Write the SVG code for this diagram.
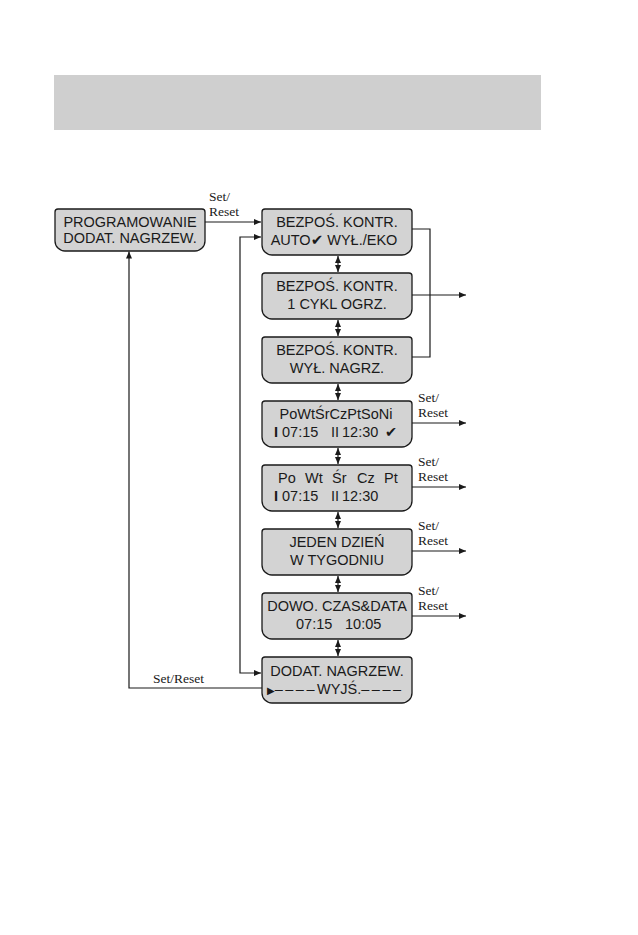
<svg xmlns="http://www.w3.org/2000/svg" width="638" height="935" viewBox="0 0 638 935">
<style>
.box{fill:#d3d3d3;stroke:#1a1a1a;stroke-width:1.3}
.t{font-family:"Liberation Sans",Arial,sans-serif;font-size:14.5px;fill:#1a1a1a;text-anchor:middle}
.tl{font-family:"Liberation Sans",Arial,sans-serif;font-size:14.5px;fill:#1a1a1a}
.sym{font-family:"DejaVu Sans",sans-serif}
.lbl{font-family:"Liberation Serif","Times New Roman",serif;font-size:13.5px;fill:#1a1a1a}
.c{fill:none;stroke:#1a1a1a;stroke-width:1.2}
.a{marker-end:url(#ah)}
.aa{marker-start:url(#ah);marker-end:url(#ah)}
</style>
<defs>
<marker id="ah" viewBox="0 0 7 6" refX="7" refY="3" markerWidth="7" markerHeight="6" markerUnits="userSpaceOnUse" orient="auto-start-reverse">
<path d="M0,0 L7,3 L0,6 z" fill="#1a1a1a"/>
</marker>
</defs>
<rect x="54" y="75" width="487" height="55" fill="#cfcfcf"/>

<g id="connectors">
<line class="c a" x1="205" y1="222" x2="261" y2="222"/>
<text class="lbl" x="209" y="201">Set/</text>
<text class="lbl" x="209" y="216">Reset</text>
<polyline class="c aa" points="261,237 240,237 240,673 261,673"/>
<polyline class="c a" points="262,688 129,688 129,251.5"/>
<text class="lbl" x="153" y="683">Set/Reset</text>
<polyline class="c" points="412,229 430,229 430,357 412,357"/>
<line class="c a" x1="412" y1="295" x2="466" y2="295"/>
<line class="c aa" x1="338" y1="256" x2="338" y2="272"/>
<line class="c aa" x1="338" y1="320" x2="338" y2="336"/>
<line class="c aa" x1="338" y1="384" x2="338" y2="400"/>
<line class="c aa" x1="338" y1="448" x2="338" y2="464"/>
<line class="c aa" x1="338" y1="512" x2="338" y2="528"/>
<line class="c aa" x1="338" y1="576" x2="338" y2="592"/>
<line class="c aa" x1="338" y1="640" x2="338" y2="656"/>
<line class="c a" x1="412" y1="423" x2="466" y2="423"/>
<text class="lbl" x="418" y="402">Set/</text>
<text class="lbl" x="418" y="417">Reset</text>
<line class="c a" x1="412" y1="487" x2="466" y2="487"/>
<text class="lbl" x="418" y="466">Set/</text>
<text class="lbl" x="418" y="481">Reset</text>
<line class="c a" x1="412" y1="551" x2="466" y2="551"/>
<text class="lbl" x="418" y="530">Set/</text>
<text class="lbl" x="418" y="545">Reset</text>
<line class="c a" x1="412" y1="616" x2="466" y2="616"/>
<text class="lbl" x="418" y="595">Set/</text>
<text class="lbl" x="418" y="610">Reset</text>
</g>

<g id="n0">
<path class="box" d="M58,209 H202 Q205,209 205,212 V241 A10,10 0 0 1 195,251 H65 A10,10 0 0 1 55,241 V212 Q55,209 58,209 Z"/>
<text class="t" x="130" y="227">PROGRAMOWANIE</text>
<text class="t" x="130" y="243">DODAT. NAGRZEW.</text>
</g>

<g id="n1">
<path class="box" d="M265,209 H409 Q412,209 412,212 V245 A10,10 0 0 1 402,255 H272 A10,10 0 0 1 262,245 V212 Q262,209 265,209 Z"/>
<text class="t" x="337" y="227">BEZPOŚ. KONTR.</text>
<text class="t" x="334" y="245">AUTO<tspan class="sym" font-size="15">✔</tspan> WYŁ./EKO</text>
</g>

<g id="n2">
<path class="box" d="M265,273 H409 Q412,273 412,276 V309 A10,10 0 0 1 402,319 H272 A10,10 0 0 1 262,309 V276 Q262,273 265,273 Z"/>
<text class="t" x="337" y="291">BEZPOŚ. KONTR.</text>
<text class="t" x="337" y="309">1 CYKL OGRZ.</text>
</g>

<g id="n3">
<path class="box" d="M265,337 H409 Q412,337 412,340 V373 A10,10 0 0 1 402,383 H272 A10,10 0 0 1 262,373 V340 Q262,337 265,337 Z"/>
<text class="t" x="337" y="355">BEZPOŚ. KONTR.</text>
<text class="t" x="337" y="373">WYŁ. NAGRZ.</text>
</g>

<g id="n4">
<path class="box" d="M265,401 H409 Q412,401 412,404 V437 A10,10 0 0 1 402,447 H272 A10,10 0 0 1 262,437 V404 Q262,401 265,401 Z"/>
<text class="t" x="336" y="419">PoWtŚrCzPtSoNi</text>
<text class="tl" x="274" y="437" font-weight="bold">I</text>
<text class="tl" x="282" y="437">07:15</text>
<text class="tl" x="331" y="437">II</text>
<text class="tl" x="342" y="437">12:30</text>
<text class="tl sym" x="385" y="437" font-size="13">✔</text>
</g>

<g id="n5">
<path class="box" d="M265,465 H409 Q412,465 412,468 V501 A10,10 0 0 1 402,511 H272 A10,10 0 0 1 262,501 V468 Q262,465 265,465 Z"/>
<text class="tl" x="278" y="483">Po</text>
<text class="tl" x="305" y="483">Wt</text>
<text class="tl" x="332" y="483">Śr</text>
<text class="tl" x="357" y="483">Cz</text>
<text class="tl" x="384" y="483">Pt</text>
<text class="tl" x="274" y="501" font-weight="bold">I</text>
<text class="tl" x="282" y="501">07:15</text>
<text class="tl" x="331" y="501">II</text>
<text class="tl" x="342" y="501">12:30</text>
</g>

<g id="n6">
<path class="box" d="M265,529 H409 Q412,529 412,532 V565 A10,10 0 0 1 402,575 H272 A10,10 0 0 1 262,565 V532 Q262,529 265,529 Z"/>
<text class="t" x="337" y="547">JEDEN DZIEŃ</text>
<text class="t" x="337" y="565">W TYGODNIU</text>
</g>

<g id="n7">
<path class="box" d="M265,593 H409 Q412,593 412,596 V629 A10,10 0 0 1 402,639 H272 A10,10 0 0 1 262,629 V596 Q262,593 265,593 Z"/>
<text class="t" x="337" y="611">DOWO. CZAS&amp;DATA</text>
<text class="tl" x="296" y="629">07:15</text>
<text class="tl" x="345" y="629">10:05</text>
</g>

<g id="n8">
<path class="box" d="M265,657 H409 Q412,657 412,660 V693 A10,10 0 0 1 402,703 H272 A10,10 0 0 1 262,693 V660 Q262,657 265,657 Z"/>
<text class="t" x="337" y="676">DODAT. NAGRZEW.</text>
<text class="tl" x="267" y="694"><tspan class="sym" font-size="10">▶</tspan><tspan letter-spacing="2.5">––––</tspan>WYJŚ.<tspan letter-spacing="2.5">––––</tspan></text>
</g>
</svg>
